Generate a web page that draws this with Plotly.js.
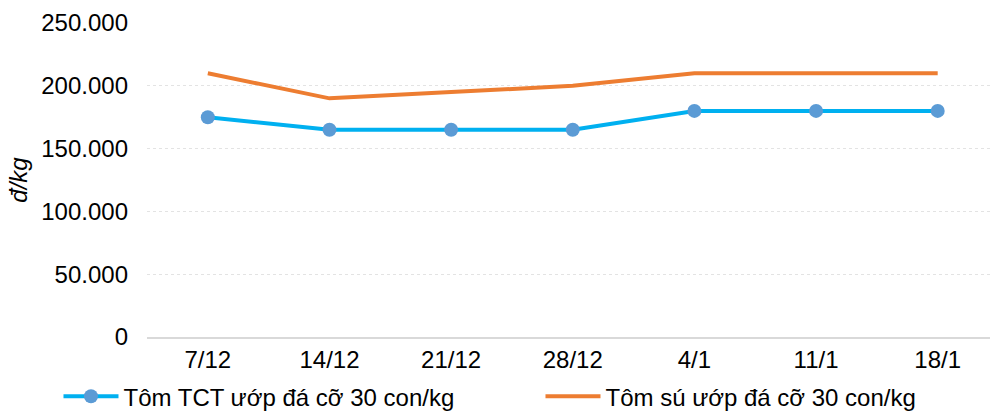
<!DOCTYPE html>
<html>
<head>
<meta charset="utf-8">
<script src="https://cdn.plot.ly/plotly-3.0.1.min.js"></script>
<style>html,body{margin:0;padding:0;background:#fff;}#chart{width:990px;height:412px;}</style>
</head>
<body>
<div id="chart"></div>
<script>
var categories = ["7/12", "14/12", "21/12", "28/12", "4/1", "11/1", "18/1"];
var tomTCT = [175000, 165000, 165000, 165000, 180000, 180000, 180000];
var tomSu = [210000, 190000, 195000, 200000, 210000, 210000, 210000];
var seriesNames = ["Tôm TCT ướp đá cỡ 30 con/kg", "Tôm sú ướp đá cỡ 30 con/kg"];
var yTicks = [0, 50000, 100000, 150000, 200000, 250000];
var yTitle = "đ/kg";

var font = "Liberation Sans, Arial, sans-serif";
var traces = [
  {
    x: categories, y: tomTCT, name: seriesNames[0], type: "scatter", mode: "lines+markers",
    line: {color: "#00B0F0", width: 4},
    marker: {color: "#5B9BD5", size: 14}
  },
  {
    x: categories, y: tomSu, name: seriesNames[1], type: "scatter", mode: "lines",
    line: {color: "#ED7D31", width: 4}
  }
];
var layout = {
  width: 990, height: 412,
  margin: {l: 147, r: 0, t: 23, b: 75, autoexpand: false},
  paper_bgcolor: "#fff", plot_bgcolor: "#fff",
  separators: ",.",
  font: {family: font, size: 24, color: "#000"},
  showlegend: true,
  legend: {orientation: "h", x: -0.105, xanchor: "left", y: -0.19, yanchor: "middle",
           font: {family: font, size: 24, color: "#000"}, itemwidth: 55, entrywidth: 412, tracegroupgap: 0},
  xaxis: {
    type: "category", range: [-0.5, 6.43],
    showgrid: false, showline: true, linecolor: "#d9d9d9", linewidth: 2,
    ticks: "", tickfont: {family: font, size: 24, color: "#000"}, zeroline: false
  },
  yaxis: {
    range: [0, 250000], tickvals: yTicks, tickformat: ",d",
    showgrid: true, gridcolor: "#e3e3e3", griddash: "dot", gridwidth: 1,
    zeroline: false, showline: false, ticks: "", ticklabelstandoff: 18,
    tickfont: {family: font, size: 24, color: "#000"},
    title: {text: "<i>" + yTitle + "</i>", font: {family: font, size: 24, color: "#000"}, standoff: 6}
  }
};
Plotly.newPlot("chart", traces, layout, {displayModeBar: false, staticPlot: true});
</script>
</body>
</html>
